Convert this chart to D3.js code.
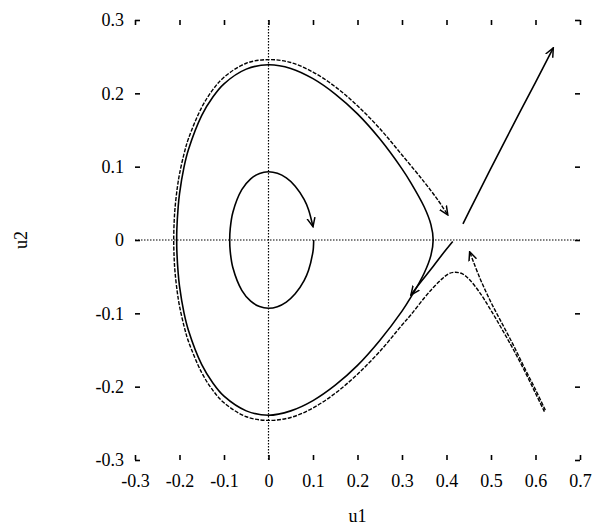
<!DOCTYPE html>
<html>
<head>
<meta charset="utf-8">
<script src="https://cdn.jsdelivr.net/npm/d3@7"></script>
<style>
  body { margin: 0; background: #fff; }
  text { font-family: "Liberation Serif", "Times New Roman", serif; }
</style>
</head>
<body>
<div id="chart"></div>
<script>
// Tick values and labels
const xTicks = [-0.3, -0.2, -0.1, 0, 0.1, 0.2, 0.3, 0.4, 0.5, 0.6, 0.7];
const xTickLabels = ["-0.3", "-0.2", "-0.1", "0", "0.1", "0.2", "0.3", "0.4", "0.5", "0.6", "0.7"];
const yTicks = [-0.3, -0.2, -0.1, 0, 0.1, 0.2, 0.3];
const yTickLabels = ["-0.3", "-0.2", "-0.1", "0", "0.1", "0.2", "0.3"];

// Trajectories, as [u1, u2]
const smallLoop = [[0.1016, 0], [0.101, -0.0092], [0.1, -0.0154], [0.09, -0.0413], [0.08, -0.0553], [0.06, -0.0734],
  [0.04, -0.0846], [0.02, -0.0909], [0, -0.093], [-0.02, -0.0908], [-0.04, -0.0834], [-0.06, -0.0686],
  [-0.08, -0.0379], [-0.086, -0.0156], [-0.0872, 0], [-0.086, 0.0156], [-0.08, 0.0379], [-0.06, 0.0686],
  [-0.04, 0.0834], [-0.02, 0.0908], [0, 0.093], [0.02, 0.0909], [0.04, 0.0846], [0.06, 0.0734],
  [0.08, 0.0553], [0.09, 0.0413], [0.1, 0.018]];

const innerOrbit = [[0.37, 0], [0.365, -0.021], [0.35, -0.045], [0.32, -0.078], [0.3, -0.097], [0.25, -0.137],
  [0.2, -0.171], [0.15, -0.198], [0.1, -0.219], [0.05, -0.233], [0, -0.239], [-0.05, -0.233], [-0.1, -0.213],
  [-0.125, -0.195], [-0.15, -0.17], [-0.18, -0.123], [-0.19, -0.099], [-0.2, -0.063], [-0.203, -0.045],
  [-0.206, -0.014], [-0.2063, 0], [-0.206, 0.014], [-0.203, 0.045], [-0.2, 0.063], [-0.19, 0.099],
  [-0.18, 0.123], [-0.15, 0.17], [-0.125, 0.195], [-0.1, 0.213], [-0.05, 0.233], [0, 0.239], [0.05, 0.234],
  [0.1, 0.22], [0.15, 0.199], [0.2, 0.172], [0.25, 0.138], [0.3, 0.097], [0.32, 0.078], [0.35, 0.045],
  [0.365, 0.021]];

const outerOrbit = [[0.62, -0.234], [0.6, -0.209], [0.575, -0.178], [0.55, -0.149], [0.525, -0.122],
  [0.5, -0.096], [0.475, -0.072], [0.45, -0.053], [0.435, -0.046], [0.42, -0.044], [0.405, -0.046],
  [0.39, -0.053], [0.37, -0.065], [0.35, -0.079], [0.32, -0.102], [0.3, -0.116], [0.25, -0.152],
  [0.2, -0.183], [0.15, -0.209], [0.1, -0.229], [0.05, -0.242], [0, -0.246], [-0.05, -0.241],
  [-0.1, -0.222], [-0.125, -0.205], [-0.15, -0.181], [-0.18, -0.138], [-0.19, -0.117], [-0.2, -0.09],
  [-0.205, -0.071], [-0.21, -0.044], [-0.212, -0.025], [-0.213, 0], [-0.212, 0.025], [-0.21, 0.044],
  [-0.205, 0.071], [-0.2, 0.09], [-0.19, 0.117], [-0.18, 0.138], [-0.15, 0.181], [-0.125, 0.205],
  [-0.1, 0.222], [-0.05, 0.241], [0, 0.246], [0.05, 0.242], [0.1, 0.229], [0.15, 0.209], [0.2, 0.183],
  [0.25, 0.152], [0.3, 0.116], [0.35, 0.079], [0.38, 0.055], [0.403, 0.034]];

const stableBranch = [[0.622, -0.232], [0.6, -0.204], [0.575, -0.174], [0.55, -0.143], [0.525, -0.114],
  [0.5, -0.085], [0.475, -0.052], [0.452, -0.016]];

const escapeBranch = [[0.437, 0.022], [0.46, 0.05], [0.5, 0.098], [0.55, 0.157], [0.6, 0.215], [0.64, 0.262]];

const leftBranch = [[0.414, -0.002], [0.39, -0.02], [0.365, -0.04], [0.34, -0.059], [0.32, -0.075]];

// Layout
const width = 602, height = 527;
const fontSize = "18px";
const x = d3.scaleLinear().domain([-0.3, 0.7]).range([135, 580]);
const y = d3.scaleLinear().domain([-0.3, 0.3]).range([460, 20]);

const svg = d3.select("#chart").append("svg")
    .attr("width", width)
    .attr("height", height);

// open arrow head
svg.append("defs").append("marker")
    .attr("id", "arrow")
    .attr("viewBox", "0 -5 10 10")
    .attr("refX", 9)
    .attr("refY", 0)
    .attr("markerUnits", "userSpaceOnUse")
    .attr("markerWidth", 10)
    .attr("markerHeight", 10)
    .attr("orient", "auto")
    .append("path")
    .attr("d", "M0,-4L9,0L0,4")
    .attr("fill", "none")
    .attr("stroke", "#000")
    .attr("stroke-width", 1.5);

// zero lines
svg.append("line")
    .attr("x1", x(-0.3)).attr("x2", x(0.7))
    .attr("y1", y(0)).attr("y2", y(0))
    .attr("stroke", "#000").attr("stroke-width", 1.2)
    .attr("stroke-dasharray", "1.5,1.5");
svg.append("line")
    .attr("x1", x(0)).attr("x2", x(0))
    .attr("y1", y(0.3)).attr("y2", y(-0.3))
    .attr("stroke", "#000").attr("stroke-width", 1.2)
    .attr("stroke-dasharray", "1.5,1.5");

// axes, ticks pointing inwards
function styleAxis(g) {
    g.select(".domain").remove();
    g.selectAll(".tick line").attr("stroke", "#000").attr("stroke-width", 1.6);
    g.selectAll(".tick text").attr("fill", "#000")
        .style("font-family", "'Liberation Serif', serif")
        .style("font-size", fontSize);
}

svg.append("g")
    .attr("transform", "translate(0," + y(-0.3) + ")")
    .call(d3.axisBottom(x).tickValues(xTicks).tickSize(-5).tickPadding(14)
        .tickFormat((d, i) => xTickLabels[i]))
    .call(styleAxis);
svg.append("g")
    .attr("transform", "translate(0," + y(0.3) + ")")
    .call(d3.axisTop(x).tickValues(xTicks).tickSize(-5).tickFormat(""))
    .call(styleAxis);
svg.append("g")
    .attr("transform", "translate(" + x(-0.3) + ",0)")
    .call(d3.axisLeft(y).tickValues(yTicks).tickSize(-5).tickPadding(11)
        .tickFormat((d, i) => yTickLabels[i]))
    .call(styleAxis);
svg.append("g")
    .attr("transform", "translate(" + x(0.7) + ",0)")
    .call(d3.axisRight(y).tickValues(yTicks).tickSize(-5).tickFormat(""))
    .call(styleAxis);

// axis titles
svg.append("text")
    .attr("x", (x(-0.3) + x(0.7)) / 2)
    .attr("y", 522)
    .attr("text-anchor", "middle")
    .style("font-size", fontSize)
    .text("u1");
svg.append("text")
    .attr("transform", "translate(27," + y(0) + ") rotate(-90)")
    .attr("text-anchor", "middle")
    .style("font-size", fontSize)
    .text("u2");

// trajectories
const line = d3.line().x(d => x(d[0])).y(d => y(d[1])).curve(d3.curveCatmullRom);
const closedLine = d3.line().x(d => x(d[0])).y(d => y(d[1])).curve(d3.curveCatmullRomClosed);

svg.append("path").datum(innerOrbit)
    .attr("d", closedLine)
    .attr("fill", "none").attr("stroke", "#000").attr("stroke-width", 1.6);

svg.append("path").datum(outerOrbit)
    .attr("d", line)
    .attr("fill", "none").attr("stroke", "#000").attr("stroke-width", 1.4)
    .attr("stroke-dasharray", "4,1.5")
    .attr("marker-end", "url(#arrow)");

svg.append("path").datum(stableBranch)
    .attr("d", line)
    .attr("fill", "none").attr("stroke", "#000").attr("stroke-width", 1.4)
    .attr("stroke-dasharray", "4,1.5")
    .attr("marker-end", "url(#arrow)");

[smallLoop, escapeBranch, leftBranch].forEach(pts => {
    svg.append("path").datum(pts)
        .attr("d", line)
        .attr("fill", "none").attr("stroke", "#000").attr("stroke-width", 1.6)
        .attr("marker-end", "url(#arrow)");
});
</script>
</body>
</html>
